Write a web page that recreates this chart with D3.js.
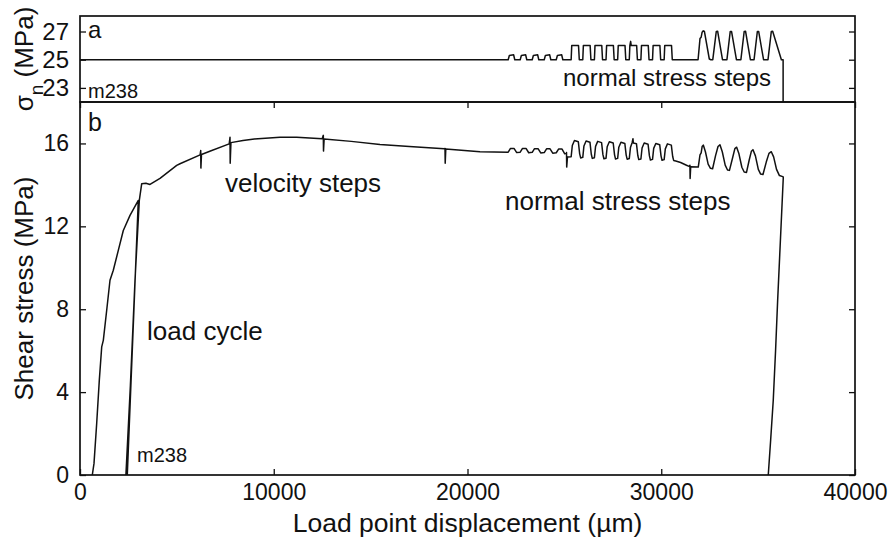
<!DOCTYPE html>
<html><head><meta charset="utf-8">
<script src="https://cdn.jsdelivr.net/npm/d3@7"></script>
<style>
body{margin:0;background:#fff;}
svg{display:block;}
text{font-family:"Liberation Sans",Arial,Helvetica,sans-serif;fill:#111;}
</style></head><body>
<svg id="chart" width="894" height="548"></svg>
<script>
// ---------- data ----------
const xTicks = [0, 10000, 20000, 30000, 40000];
const shearTicks = [0, 4, 8, 12, 16];
const normalTicks = [23, 25, 27];

// panel a: normal stress (x = load point displacement, µm; y = MPa)
const normalStress = [
  [0,25],[22100,25],
  [22160,25.3],[22380,25.35],[22440,25],[22720,25],
  [22780,25.3],[23000,25.35],[23060,25],[23340,25],
  [23400,25.3],[23620,25.35],[23680,25],[23960,25],
  [24020,25.3],[24240,25.35],[24300,25],[24580,25],
  [24640,25.3],[24860,25.35],[24920,25],[25350,25],
  [25380,26],[25730,26],[25770,25],[25950,25],
  [25980,26],[26330,26],[26370,25],[26550,25],
  [26580,26],[26930,26],[26970,25],[27150,25],
  [27180,26],[27530,26],[27570,25],[27750,25],
  [27780,26],[28130,26],[28170,25],[28350,25],
  [28380,26],[28420,26.3],[28450,26],[28730,26],[28770,25],[28950,25],
  [28980,26],[29330,26],[29370,25],[29550,25],
  [29580,26],[29930,26],[29970,25],[30150,25],
  [30180,26],[30530,26],[30570,25],[31900,25],
  [32000,26.5],[32060,26.6],[32110,26.95],[32170,27.05],[32230,27],[32480,25.05],[32560,25],[32660,25],
  [32840,27],[32910,27.02],[33160,25],[33390,25],
  [33560,27],[33630,27],[33880,25],[34110,25],
  [34280,27],[34350,27.02],[34600,25],[34790,25],
  [34960,27],[35030,27],[35280,25],[35510,25],
  [35680,27],[35750,27.02],[36200,25],[36290,25],[36290,21]
];

// panel b: shear stress (MPa)
const shearStress = [
  [635,0],[723,0.56],[862,2.5],[997,4.58],[1120,6.18],[1203,6.5],[1378,7.95],[1548,9.4],
  [1719,9.88],[1977,10.84],[2235,11.8],[2581,12.53],[3009,13.25],
  [2440,0],[2370,0],
  [2600,4.3],[2839,9.4],[3061,13.25],[3185,14.06],
  [3400,14.08],[3613,14.02],[4129,14.31],[4991,14.94],[5161,15.02],[6200,15.45],
  [6230,15.66],[6240,14.81],[6270,15.47],[6700,15.62],[7700,15.98],
  [7742,16.3],[7752,15.05],[7790,16.04],[8413,16.14],[9000,16.22],[10323,16.3],[11185,16.3],
  [12500,16.23],[12558,16.39],[12568,15.63],[12600,16.22],[14000,16.1],[15484,15.95],[17000,15.85],
  [18800,15.74],[18839,15.76],[18849,15.05],[18880,15.73],[20645,15.6],[22100,15.58],
  [22220,15.76],[22400,15.76],[22540,15.56],[22720,15.58],
  [22840,15.76],[23020,15.76],[23160,15.55],[23340,15.57],
  [23460,15.75],[23640,15.75],[23780,15.54],[23960,15.56],
  [24080,15.74],[24260,15.74],[24400,15.53],[24580,15.55],
  [24700,15.73],[24880,15.73],[25020,15.5],[25100,15.52],
  [25110,15.56],[25120,14.86],[25160,15.35],[25350,15.36],
  [25410,15.9],[25520,16.14],[25720,16.08],[25790,15.5],[25840,15.3],[25950,15.33],
  [26010,15.88],[26120,16.12],[26320,16.06],[26390,15.48],[26440,15.28],[26550,15.31],
  [26610,15.86],[26720,16.1],[26920,16.04],[26990,15.46],[27040,15.26],[27150,15.29],
  [27210,15.84],[27320,16.08],[27520,16.02],[27590,15.45],[27640,15.25],[27750,15.28],
  [27810,15.82],[27920,16.06],[28120,16.0],[28190,15.44],[28240,15.24],[28350,15.27],
  [28410,15.8],[28500,16.05],[28540,16.23],[28560,16.02],[28720,15.99],[28790,15.42],[28840,15.22],[28950,15.25],
  [29010,15.78],[29120,16.02],[29320,15.96],[29390,15.4],[29440,15.2],[29550,15.23],
  [29610,15.76],[29720,16.0],[29920,15.94],[29990,15.39],[30040,15.19],[30150,15.22],
  [30210,15.74],[30320,15.98],[30520,15.92],[30590,15.37],[30640,15.18],
  [30750,15.15],[31000,15.08],[31300,14.95],[31470,14.88],[31480,14.95],[31490,14.31],[31520,14.88],[31910,14.86],
  [32000,15.45],[32060,15.55],[32110,15.85],[32170,15.92],[32280,15.6],[32420,15.0],[32540,14.8],[32650,14.78],
  [32800,15.4],[32930,15.85],[33030,15.94],[33150,15.6],[33300,14.95],[33420,14.72],[33520,14.7],
  [33680,15.3],[33800,15.75],[33892,15.82],[34010,15.5],[34160,14.85],[34280,14.62],[34400,14.6],
  [34540,15.2],[34650,15.62],[34735,15.7],[34860,15.4],[35010,14.75],[35130,14.52],[35250,14.5],
  [35420,15.1],[35560,15.52],[35680,15.6],[35800,15.35],[35950,14.75],[36100,14.45],[36270,14.4],[36300,14.38],
  [36134,11],[36008,8.43],[35900,6],[35781,3.61],[35647,1.69],[35523,0]
];

// ---------- layout ----------
const svg = d3.select("#chart");
const L = 80, R = 855;
const aTop = 16, aBot = 102, bTop = 102, bBot = 475;
const FONT = "Liberation Sans, Arial, Helvetica, sans-serif";

const x = d3.scaleLinear().domain([0, 40000]).range([L, R]);
const yA = d3.scaleLinear().domain([22, 28.1]).range([aBot, aTop]);
const yB = d3.scaleLinear().domain([0, 18]).range([bBot, bTop]);

const defs = svg.append("defs");
defs.append("clipPath").attr("id","clipA").append("rect")
  .attr("x", L).attr("y", aTop).attr("width", R-L).attr("height", aBot-aTop);
defs.append("clipPath").attr("id","clipB").append("rect")
  .attr("x", L).attr("y", bTop).attr("width", R-L).attr("height", bBot-bTop);

function styleAxis(g, fs) {
  g.select(".domain").remove();
  g.selectAll(".tick line").attr("stroke", "#111").attr("stroke-width", 1.3);
  g.selectAll(".tick text").attr("font-size", fs).attr("font-family", FONT).attr("fill", "#111");
}

// panel a axes
svg.append("g").attr("transform", `translate(${L},0)`)
  .call(d3.axisLeft(yA).tickValues(normalTicks).tickSize(-6).tickPadding(11).tickFormat(d3.format("d")))
  .call(g => styleAxis(g, 24));
svg.append("g").attr("transform", `translate(${R},0)`)
  .call(d3.axisRight(yA).tickValues(normalTicks).tickSize(-6).tickFormat(""))
  .call(g => styleAxis(g, 24));

// panel b axes
svg.append("g").attr("transform", `translate(${L},0)`)
  .call(d3.axisLeft(yB).tickValues(shearTicks).tickSize(-6).tickPadding(11).tickFormat(d3.format("d")))
  .call(g => styleAxis(g, 23));
svg.append("g").attr("transform", `translate(${R},0)`)
  .call(d3.axisRight(yB).tickValues(shearTicks).tickSize(-6).tickFormat(""))
  .call(g => styleAxis(g, 23));
svg.append("g").attr("transform", `translate(0,${bBot})`)
  .call(d3.axisBottom(x).tickValues(xTicks).tickSize(-6).tickPadding(9).tickFormat(d3.format("d")))
  .call(g => styleAxis(g, 23));
svg.append("g").attr("transform", `translate(0,${bTop})`)
  .call(d3.axisTop(x).tickValues(xTicks).tickSize(-6).tickFormat(""))
  .call(g => styleAxis(g, 23));

// frames
svg.append("rect").attr("x", L).attr("y", aTop).attr("width", R-L).attr("height", aBot-aTop)
  .attr("fill","none").attr("stroke","#111").attr("stroke-width",1.7);
svg.append("rect").attr("x", L).attr("y", bTop).attr("width", R-L).attr("height", bBot-bTop)
  .attr("fill","none").attr("stroke","#111").attr("stroke-width",1.7);

// lines
const lineA = d3.line().x(d => x(d[0])).y(d => yA(d[1]));
const lineB = d3.line().x(d => x(d[0])).y(d => yB(d[1]));
svg.append("path").datum(normalStress).attr("d", lineA).attr("clip-path","url(#clipA)")
  .attr("fill","none").attr("stroke","#111").attr("stroke-width",1.5).attr("stroke-linejoin","round");
svg.append("path").datum(shearStress).attr("d", lineB).attr("clip-path","url(#clipB)")
  .attr("fill","none").attr("stroke","#111").attr("stroke-width",1.5).attr("stroke-linejoin","round");

// labels
function label(txt, px, py, fs, anchor) {
  svg.append("text").attr("x", px).attr("y", py).attr("font-size", fs)
    .attr("text-anchor", anchor || "start").text(txt);
}
label("a", 88, 38, 24);
label("m238", 88, 98, 20);
label("normal stress steps", 563, 86, 24);
label("b", 88, 131, 25);
label("velocity steps", 225, 192, 26);
label("normal stress steps", 505, 210, 26);
label("load cycle", 147, 340, 26);
label("m238", 137, 462, 20);

// axis titles
svg.append("text").attr("x", (L+R)/2).attr("y", 532).attr("font-size", 26.5)
  .attr("text-anchor","middle").text("Load point displacement (µm)");
svg.append("text").attr("transform", `translate(33,${(bTop+bBot)/2}) rotate(-90)`)
  .attr("font-size", 26).attr("text-anchor","middle").text("Shear stress (MPa)");
const ta = svg.append("text").attr("transform", `translate(33,${(aTop+aBot)/2}) rotate(-90)`)
  .attr("font-size", 26).attr("text-anchor","middle");
ta.append("tspan").text("σ");
ta.append("tspan").attr("dy", 10).attr("font-size", 19).text("n");
ta.append("tspan").attr("dy", -10).text(" (MPa)");
</script>
</body></html>
